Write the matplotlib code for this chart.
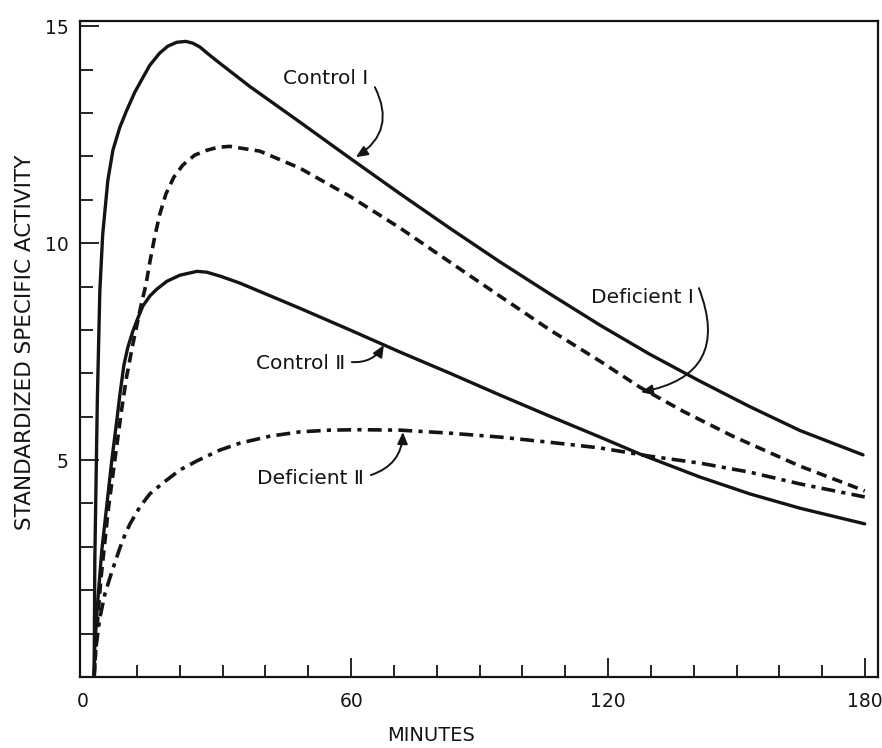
import matplotlib
matplotlib.use("Agg")
import matplotlib.pyplot as plt
from matplotlib.ticker import MultipleLocator, FixedLocator

plt.rcParams['font.family'] = ['DejaVu Sans']
plt.rcParams['lines.scale_dashes'] = False

# Specific activity curves (minutes, standardized specific activity)
control1_t = [0, 0.16, 0.75, 1.33, 2.0, 3.2, 4.4, 6.0, 7.6, 9.5, 11.4, 13.0, 15.3, 17.2, 19.3, 21.4, 23.0, 24.7,
              26.5, 28.65, 36.35, 48.03, 59.7, 71.4, 83.1, 94.7, 106.4, 118.1, 129.7, 141.4, 153.1, 164.8, 179.5]
control1_y = [0, 2.7, 6.4, 8.9, 10.2, 11.45, 12.15, 12.67, 13.06, 13.48, 13.82, 14.1, 14.38, 14.54, 14.63, 14.65, 14.61, 14.52,
              14.37, 14.2, 13.61, 12.79, 11.96, 11.14, 10.34, 9.57, 8.83, 8.11, 7.44, 6.82, 6.23, 5.68, 5.12]

deficient1_t = [0, 0.63, 1.56, 3.29, 4.83, 6.4, 7.56, 9.1, 11.07, 12.07, 13.0, 14.17, 15.34, 16.74, 18.6, 20.7, 23.5,
                26.3, 28.9, 31.7, 38.7, 48.0, 59.7, 71.4, 83.1, 94.7, 106.4, 118.1, 127.4, 137.4, 149.1, 164.8, 179.9]
deficient1_y = [0, 1.08, 2.24, 3.85, 5.0, 6.15, 6.91, 7.7, 8.62, 9.03, 9.56, 10.16, 10.67, 11.13, 11.52, 11.8, 12.03,
                12.14, 12.21, 12.23, 12.12, 11.73, 11.08, 10.35, 9.56, 8.78, 8.0, 7.28, 6.68, 6.13, 5.55, 4.86, 4.29]

control2_t = [0, 0.16, 0.86, 1.8, 2.96, 4.13, 5.3, 6.0, 6.95, 7.87, 9.04, 10.2, 11.37, 13.0, 14.64, 16.97, 20.0, 24.0,
              26.3, 29.4, 34.0, 48.0, 59.7, 71.4, 83.1, 94.7, 106.4, 118.1, 127.4, 141.4, 153.1, 164.8, 179.9]
control2_y = [0, 0.74, 1.77, 2.93, 3.96, 5.0, 5.92, 6.5, 7.19, 7.6, 7.97, 8.27, 8.55, 8.78, 8.94, 9.12, 9.26, 9.35,
              9.33, 9.24, 9.08, 8.5, 8.0, 7.49, 7.0, 6.5, 6.01, 5.53, 5.14, 4.61, 4.22, 3.89, 3.53]

deficient2_t = [0, 0.4, 1.33, 2.5, 3.66, 4.83, 6.0, 7.16, 8.33, 10.67, 13.0, 16.04, 20.0, 23.98, 29.35, 34.02, 41.02,
                48.0, 55.0, 62.0, 71.4, 83.1, 94.7, 106.4, 118.1, 129.7, 141.4, 153.1, 164.8, 179.9]
deficient2_y = [0, 0.67, 1.36, 1.91, 2.28, 2.63, 2.97, 3.27, 3.52, 3.92, 4.22, 4.47, 4.77, 4.98, 5.23, 5.39, 5.55,
                5.65, 5.69, 5.7, 5.69, 5.62, 5.53, 5.41, 5.28, 5.09, 4.93, 4.72, 4.45, 4.15]

x_tick_values = [60, 120, 180]
x_tick_labels = ["60", "120", "180"]
y_tick_values = [5, 10, 15]
y_tick_labels = ["5", "10", "15"]

ink = "#141414"

fig = plt.figure(figsize=(8.82, 7.48), dpi=100)
ax = fig.add_axes([80 / 882, 1 - 677 / 748, (878 - 80) / 882, (677 - 21) / 748])
ax.set_xlim(-3.3, 183.0)
ax.set_ylim(0, 15.12)

ax.plot(control1_t, control1_y, color=ink, lw=2.4, solid_capstyle='round', solid_joinstyle='round')
ax.plot(control2_t, control2_y, color=ink, lw=2.4, solid_capstyle='round', solid_joinstyle='round')
ax.plot(deficient1_t, deficient1_y, color=ink, lw=2.6, linestyle=(0, (7.5, 4.5)))
ax.plot(deficient2_t, deficient2_y, color=ink, lw=2.6, linestyle=(0, (10, 4.5, 3, 4.5)))

for side in ('top', 'right', 'left', 'bottom'):
    ax.spines[side].set_linewidth(1.6)
    ax.spines[side].set_color(ink)

ax.xaxis.set_major_locator(FixedLocator(x_tick_values))
ax.set_xticklabels(x_tick_labels)
ax.xaxis.set_minor_locator(MultipleLocator(10))
ax.yaxis.set_major_locator(FixedLocator(y_tick_values))
ax.set_yticklabels(y_tick_labels)
ax.yaxis.set_minor_locator(MultipleLocator(1))
ax.tick_params(which='both', direction='in', color=ink, width=1.3, labelsize=13.5, labelcolor=ink)
ax.tick_params(which='major', length=14)
ax.tick_params(which='minor', length=9)
ax.tick_params(axis='x', which='major', pad=11)
ax.tick_params(axis='y', which='major', pad=8)
ax.tick_params(top=False, right=False, which='both')

# origin label at the corner of the frame
ax.text(0.003, -0.038, "0", transform=ax.transAxes, ha='center', va='center', fontsize=13.5, color=ink)

ax.set_xlabel("MINUTES", fontsize=14, color=ink)
ax.xaxis.set_label_coords(0.44, -0.075)
ax.set_ylabel("STANDARDIZED SPECIFIC ACTIVITY", fontsize=15.5, color=ink)
ax.yaxis.set_label_coords(-0.056, 0.51)

# curve labels with curved pointers
def to_data(px, py):
    x = (px - 94.3) / 4.283
    y = (677 - py) / 43.4
    return x, y

labels = [
    ("Control Ⅰ", (326, 78), (375, 87), (356, 157), -0.45),
    ("Deficient Ⅰ", (643, 297), (699, 288), (641, 392), -0.6),
    ("Control Ⅱ", (301, 363), (352, 362), (384, 345), 0.3),
    ("Deficient Ⅱ", (311, 478), (371, 475), (403, 432), 0.35),
]
for text, (tx, ty), start, tip, rad in labels:
    ax.text(*to_data(tx, ty), text, fontsize=14.5, ha='center', va='center', color=ink)
    ax.annotate("", xy=to_data(*tip), xytext=to_data(*start),
                arrowprops=dict(arrowstyle='-|>,head_length=0.5,head_width=0.22', color=ink, lw=1.4,
                                connectionstyle=f'arc3,rad={rad}', shrinkA=0, shrinkB=0, mutation_scale=14))

fig.savefig("out.png", dpi=100)
